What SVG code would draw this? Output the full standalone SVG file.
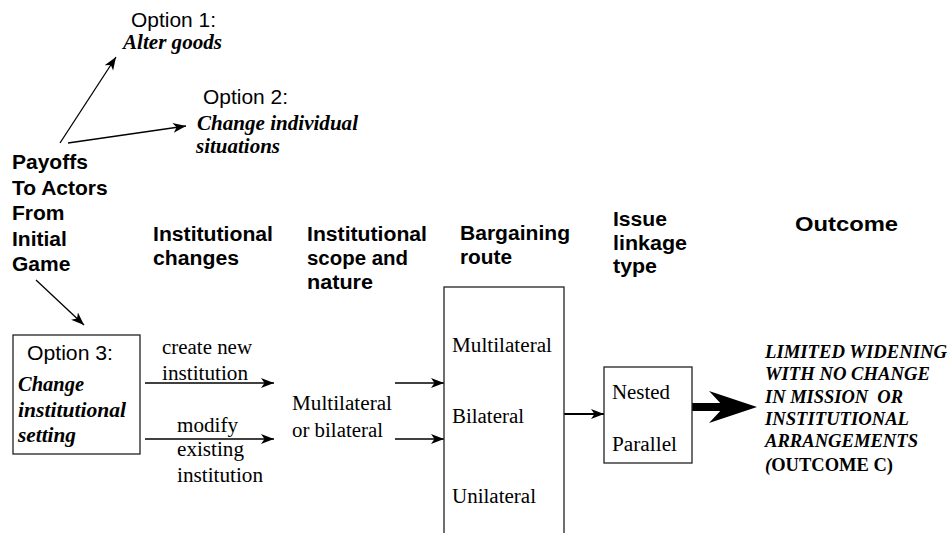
<svg xmlns="http://www.w3.org/2000/svg" width="952" height="533" viewBox="0 0 952 533">
<style>
.sans{font-family:"Liberation Sans",Arial,sans-serif;fill:#000}
.sb{font-family:"Liberation Sans",Arial,sans-serif;font-weight:bold;fill:#000;font-size:20px}
.serif{font-family:"Liberation Serif","Times New Roman",serif;fill:#000;font-size:20px}
.sbi{font-family:"Liberation Serif","Times New Roman",serif;font-weight:bold;font-style:italic;fill:#000;font-size:20px}
.box{fill:#fff;stroke:#222;stroke-width:1.3}
.ln{stroke:#000;stroke-width:1.3;fill:none}
</style>
<defs>
<marker id="ah" markerUnits="userSpaceOnUse" markerWidth="14" markerHeight="11" refX="13" refY="5" orient="auto">
<path d="M0,0 L13,5 L0,10 L3.5,5 z" fill="#000"/>
</marker>
</defs>
<rect width="952" height="533" fill="#fff"/>

<g id="connectors">
<line class="ln" x1="60" y1="143" x2="116" y2="57" marker-end="url(#ah)"/>
<line class="ln" x1="68" y1="143" x2="186" y2="126" marker-end="url(#ah)"/>
<line class="ln" x1="36" y1="280" x2="84" y2="325" marker-end="url(#ah)"/>
<line class="ln" x1="145" y1="383" x2="274" y2="383" marker-end="url(#ah)"/>
<line class="ln" x1="145" y1="439" x2="274" y2="439" marker-end="url(#ah)"/>
<line class="ln" x1="395" y1="383" x2="444" y2="383" marker-end="url(#ah)"/>
<line class="ln" x1="395" y1="439" x2="444" y2="439" marker-end="url(#ah)"/>
<line x1="564" y1="414" x2="604" y2="414" stroke="#000" stroke-width="2.2" marker-end="url(#ah)"/>
<path d="M692,403 L726,403 L726,411 L692,411 z M709,391 L757,407 L709,423 L724,407 z" fill="#000"/>
</g>

<g id="option1">
<text class="sans" x="131" y="27" font-size="20" textLength="85" lengthAdjust="spacingAndGlyphs">Option 1:</text>
<text class="sbi" x="123" y="49" textLength="99" lengthAdjust="spacingAndGlyphs">Alter goods</text>
</g>

<g id="option2">
<text class="sans" x="203" y="104" font-size="20" textLength="85" lengthAdjust="spacingAndGlyphs">Option 2:</text>
<text class="sbi" x="197" y="130" textLength="161" lengthAdjust="spacingAndGlyphs">Change individual</text>
<text class="sbi" x="196" y="153" textLength="84" lengthAdjust="spacingAndGlyphs">situations</text>
</g>

<g id="payoffs">
<text class="sb" x="12" y="169" style="font-size:21px">Payoffs</text>
<text class="sb" x="12" y="195" style="font-size:21px">To Actors</text>
<text class="sb" x="12" y="220" style="font-size:21px">From</text>
<text class="sb" x="12" y="246" style="font-size:21px">Initial</text>
<text class="sb" x="12" y="271" style="font-size:21px">Game</text>
</g>

<g id="header-changes">
<text class="sb" x="153" y="241" textLength="120" lengthAdjust="spacingAndGlyphs">Institutional</text>
<text class="sb" x="153" y="265" textLength="86" lengthAdjust="spacingAndGlyphs">changes</text>
</g>

<g id="header-scope">
<text class="sb" x="307" y="241" textLength="120" lengthAdjust="spacingAndGlyphs">Institutional</text>
<text class="sb" x="307" y="265" textLength="101" lengthAdjust="spacingAndGlyphs">scope and</text>
<text class="sb" x="307" y="289" textLength="66" lengthAdjust="spacingAndGlyphs">nature</text>
</g>

<g id="header-bargaining">
<text class="sb" x="460" y="240" textLength="110" lengthAdjust="spacingAndGlyphs">Bargaining</text>
<text class="sb" x="460" y="264" textLength="52" lengthAdjust="spacingAndGlyphs">route</text>
</g>

<g id="header-linkage">
<text class="sb" x="613" y="226" textLength="54" lengthAdjust="spacingAndGlyphs">Issue</text>
<text class="sb" x="613" y="250" textLength="74" lengthAdjust="spacingAndGlyphs">linkage</text>
<text class="sb" x="613" y="273" textLength="44" lengthAdjust="spacingAndGlyphs">type</text>
</g>

<g id="header-outcome">
<text class="sb" x="795" y="231" textLength="103" lengthAdjust="spacingAndGlyphs">Outcome</text>
</g>

<g id="option3">
<rect class="box" x="13" y="335" width="127" height="119"/>
<text class="sans" x="27" y="360" font-size="20" textLength="86" lengthAdjust="spacingAndGlyphs">Option 3:</text>
<text class="sbi" x="18" y="391" textLength="66" lengthAdjust="spacingAndGlyphs">Change</text>
<text class="sbi" x="18" y="417" textLength="108" lengthAdjust="spacingAndGlyphs">institutional</text>
<text class="sbi" x="18" y="442" textLength="58" lengthAdjust="spacingAndGlyphs">setting</text>
</g>

<g id="label-create">
<text class="serif" x="162" y="354" textLength="90" lengthAdjust="spacingAndGlyphs">create new</text>
<text class="serif" x="162" y="380" textLength="86" lengthAdjust="spacingAndGlyphs">institution</text>
</g>

<g id="label-modify">
<text class="serif" x="177" y="432" textLength="61" lengthAdjust="spacingAndGlyphs">modify</text>
<text class="serif" x="177" y="456" textLength="67" lengthAdjust="spacingAndGlyphs">existing</text>
<text class="serif" x="177" y="482" textLength="86" lengthAdjust="spacingAndGlyphs">institution</text>
</g>

<g id="scope">
<text class="serif" x="292" y="410" textLength="100" lengthAdjust="spacingAndGlyphs">Multilateral</text>
<text class="serif" x="292" y="437" textLength="91" lengthAdjust="spacingAndGlyphs">or bilateral</text>
</g>

<g id="bargaining">
<rect class="box" x="444" y="287" width="120" height="260"/>
<text class="serif" x="452" y="352" textLength="100" lengthAdjust="spacingAndGlyphs">Multilateral</text>
<text class="serif" x="452" y="423" textLength="72" lengthAdjust="spacingAndGlyphs">Bilateral</text>
<text class="serif" x="452" y="503" textLength="84" lengthAdjust="spacingAndGlyphs">Unilateral</text>
</g>

<g id="linkage">
<rect class="box" x="604" y="367" width="88" height="96"/>
<text class="serif" x="612" y="399" textLength="58" lengthAdjust="spacingAndGlyphs">Nested</text>
<text class="serif" x="612" y="451" textLength="65" lengthAdjust="spacingAndGlyphs">Parallel</text>
</g>

<g id="outcome">
<text class="sbi" x="765" y="358" style="font-size:19px" textLength="182" lengthAdjust="spacingAndGlyphs">LIMITED WIDENING</text>
<text class="sbi" x="765" y="380" style="font-size:19px" textLength="165" lengthAdjust="spacingAndGlyphs">WITH NO CHANGE</text>
<text class="sbi" x="765" y="403" style="font-size:19px" textLength="138" lengthAdjust="spacingAndGlyphs" xml:space="preserve">IN MISSION  OR</text>
<text class="sbi" x="765" y="425" style="font-size:19px" textLength="144" lengthAdjust="spacingAndGlyphs">INSTITUTIONAL</text>
<text class="sbi" x="765" y="447" style="font-size:19px" textLength="153" lengthAdjust="spacingAndGlyphs">ARRANGEMENTS</text>
<text class="sbi" x="765" y="471" style="font-size:19px" textLength="128" lengthAdjust="spacingAndGlyphs">(<tspan font-style="normal">OUTCOME C)</tspan></text>
</g>
</svg>
